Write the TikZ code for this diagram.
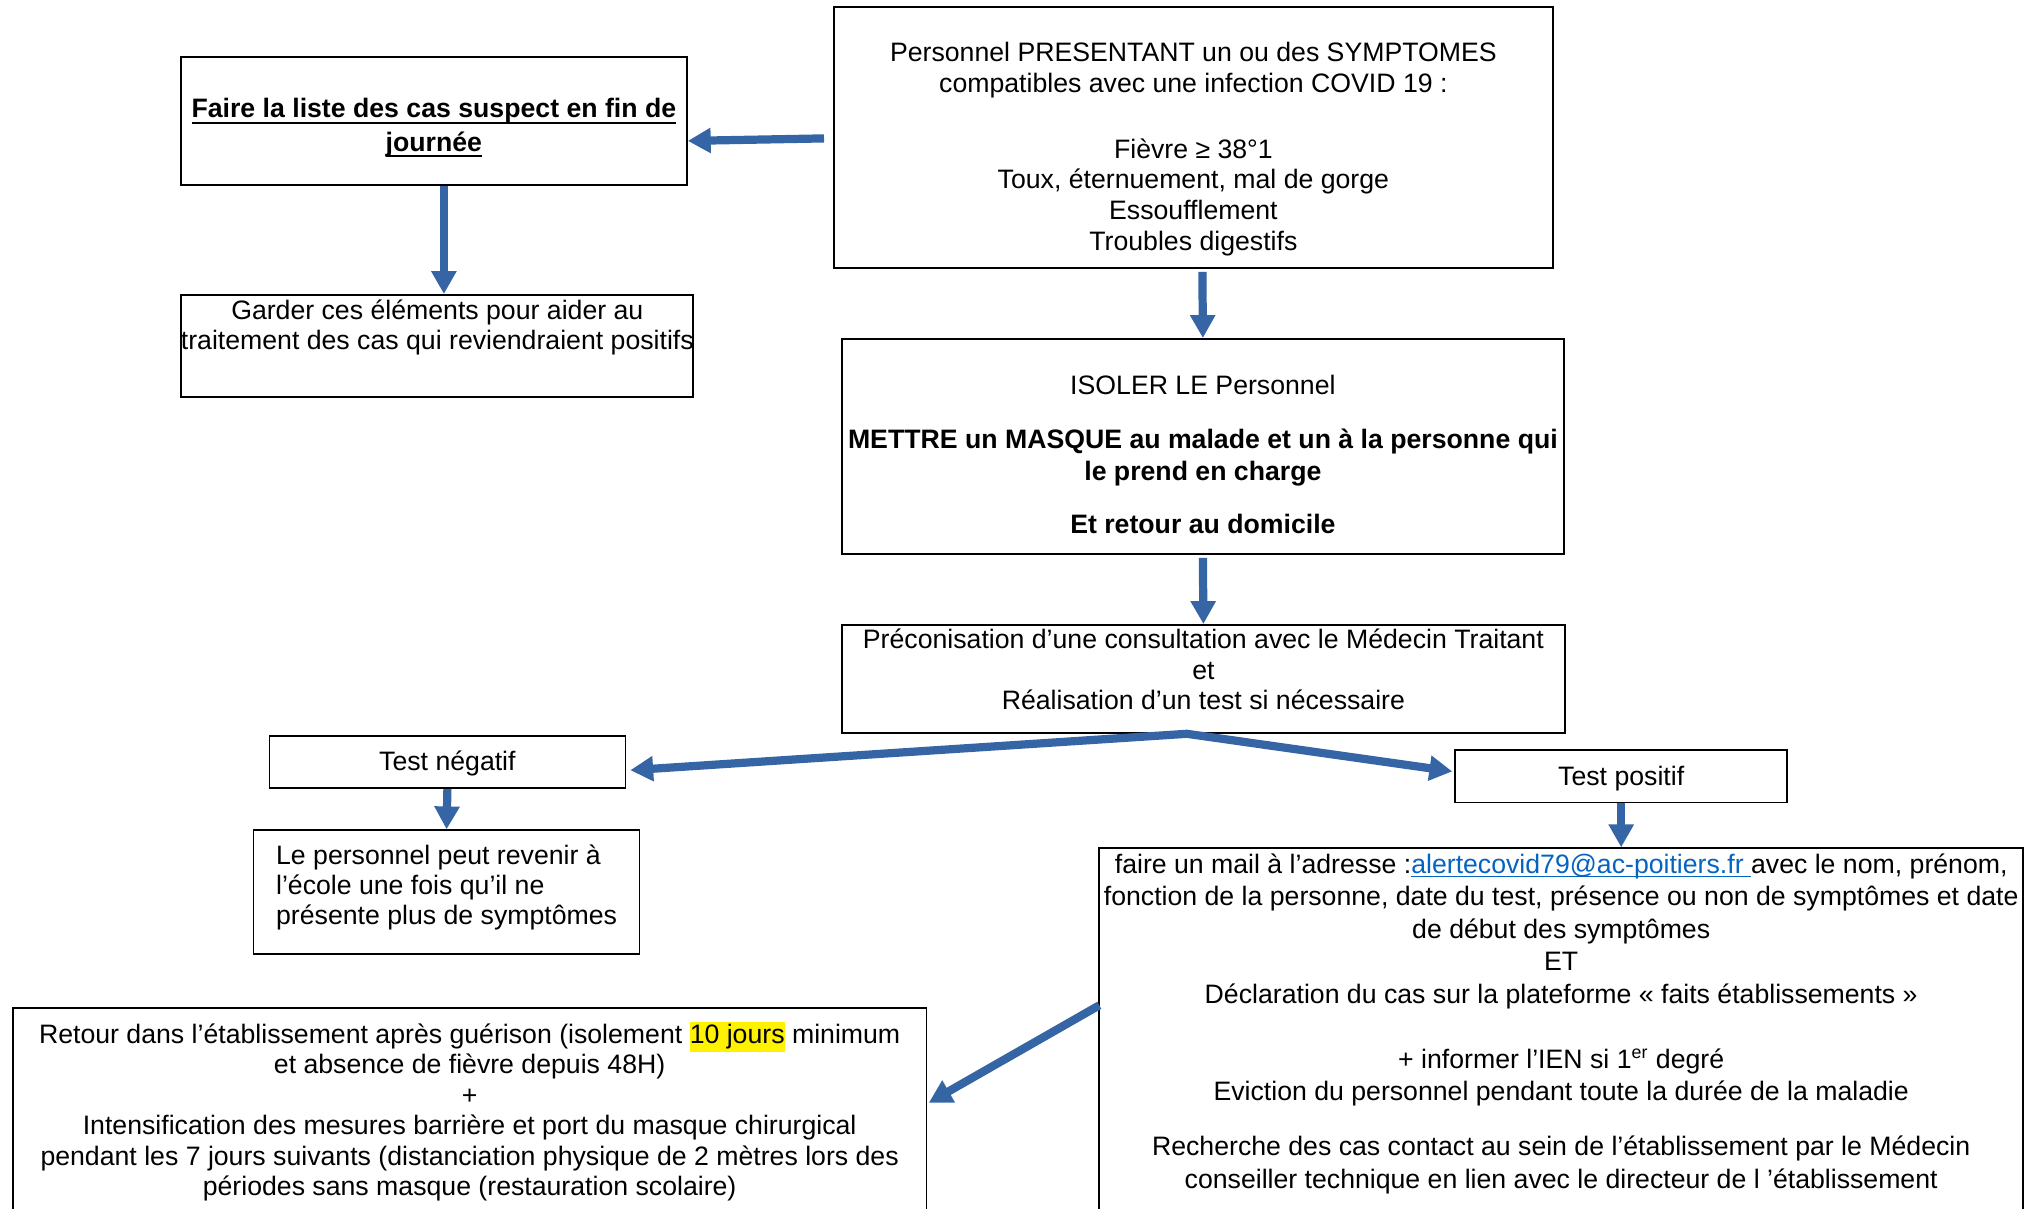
\documentclass[tikz,border=0pt]{standalone}
\usepackage{fontspec}
\setmainfont{Liberation Sans}
\usepackage{tikz}
\usetikzlibrary{arrows.meta,calc,positioning}

\definecolor{arrowblue}{RGB}{54,101,166}
\definecolor{linkblue}{RGB}{5,99,193}

\newlength{\px}\setlength{\px}{0.45pt}
\newcommand{\boxtext}[6][c]{\parbox[t][#3\px][t]{#2\px}{\centering\fontsize{12}{#5}\selectfont
  \vspace*{#4\px}\begin{tabular}[t]{@{}#1@{}}#6\end{tabular}}}
\newcommand{\undl}[3]{\setbox0\hbox{#3}\rlap{\rule[#1]{\wd0}{#2}}\box0}
\newcommand{\hlt}[1]{{\setlength{\fboxsep}{0pt}\colorbox{yellow}{\strut #1}}}

\tikzset{
  box/.style={draw, line width=0.8pt, inner sep=0pt, anchor=north west},
  flow/.style={draw=arrowblue, line width=3.7pt, -{Triangle[width=10.8pt,length=10.3pt]}},
}

\begin{document}
\begin{tikzpicture}[x=0.45pt, y=-0.45pt]
  \useasboundingbox (0,0) rectangle (2025,1208);

  \node[box] (sympt) at (833,6) {\boxtext{719}{261}{33}{13.8}{Personnel PRESENTANT un ou des SYMPTOMES\\
    compatibles avec une infection COVID 19 :\\[15.9pt]
    Fièvre ≥ 38°1\\Toux, éternuement, mal de gorge\\Essoufflement\\Troubles digestifs}};
  \node[box] (liste) at (180,56) {\boxtext{506}{128}{37.6}{15}{\textbf{\undl{-2.7pt}{0.9pt}{Faire la liste des cas suspect en fin de}}\\
    \textbf{\undl{-2.7pt}{0.9pt}{journée}}}};
  \node[box] (garder) at (180,294) {\boxtext{512}{102}{3.3}{13.5}{Garder ces éléments pour aider au\\
    traitement des cas qui reviendraient positifs}};
  \node[box] (isoler) at (841,338) {\boxtext{722}{215}{34}{14.2}{ISOLER LE Personnel\\[9.9pt]
    \textbf{METTRE un MASQUE au malade et un à la personne qui}\\
    \textbf{le prend en charge}\\[9.9pt]
    \textbf{Et retour au domicile}}};
  \node[box] (preco) at (841,624) {\boxtext{723}{108}{2.6}{13.7}{Préconisation d’une consultation avec le Médecin Traitant\\
    et\\Réalisation d’un test si nécessaire}};
  \node[box] (negatif) at (268.5,735.3) {\boxtext{356}{52}{13.2}{13.8}{Test négatif}};
  \node[box] (positif) at (1454.3,749.3) {\boxtext{332}{52.4}{13.5}{13.8}{Test positif}};
  \node[box] (personnel) at (252.7,829.3) {\boxtext[l]{386}{124}{13.7}{13.5}{Le personnel peut revenir à\\
    l’école une fois qu’il ne\\présente plus de symptômes}};
  \node[box] (mail) at (1098.3,847.3) {\boxtext{924}{420}{2.7}{14.58}{faire un mail à l’adresse :\textcolor{linkblue}{\undl{-1.6pt}{0.5pt}{alertecovid79@ac-poitiers.fr }}avec le nom, prénom,\\
    fonction de la personne, date du test, présence ou non de symptômes et date\\
    de début des symptômes\\
    ET\\
    Déclaration du cas sur la plateforme « faits établissements »\\[14.7pt]
    + informer l’IEN si 1\textsuperscript{er} degré\\
    Eviction du personnel pendant toute la durée de la maladie\\[10.2pt]
    Recherche des cas contact au sein de l’établissement par le Médecin\\
    conseiller technique en lien avec le directeur de l ’établissement}};
  \node[box] (retour) at (12,1006.7) {\boxtext{913.5}{260}{14.3}{13.7}{Retour dans l’établissement après guérison (isolement \hlt{10 jours} minimum\\
    et absence de fièvre depuis 48H)\\
    +\\
    Intensification des mesures barrière et port du masque chirurgical\\
    pendant les 7 jours suivants (distanciation physique de 2 mètres lors des\\
    périodes sans masque (restauration scolaire)}};

  \coordinate (split) at ($(preco.south)+(-16.5,0)$);

  \draw[flow] ($(sympt.west)+(-9,1)$) -- ($(liste.east)+(0,20)$);
  \draw[flow] ($(liste.south)+(10,0)$) -- ($(garder.north)+(7,0)$);
  \draw[flow] ($(sympt.south)+(9,3)$) -- (isoler.north);
  \draw[flow] ($(isoler.south)+(0,3)$) -- (preco.north);
  \draw[flow, line cap=round] (split) -- ($(negatif.east)+(4,8)$);
  \draw[flow, line cap=round] (split) -- ($(positif.west)+(-2,-5)$);
  \draw[flow] (negatif.south) -- (personnel.north);
  \draw[flow] (positif.south) -- (positif.south |- mail.north);
  \draw[flow] ($(mail.north west)+(1,158)$) -- ($(retour.north east)+(1.5,96)$);
\end{tikzpicture}
\end{document}
